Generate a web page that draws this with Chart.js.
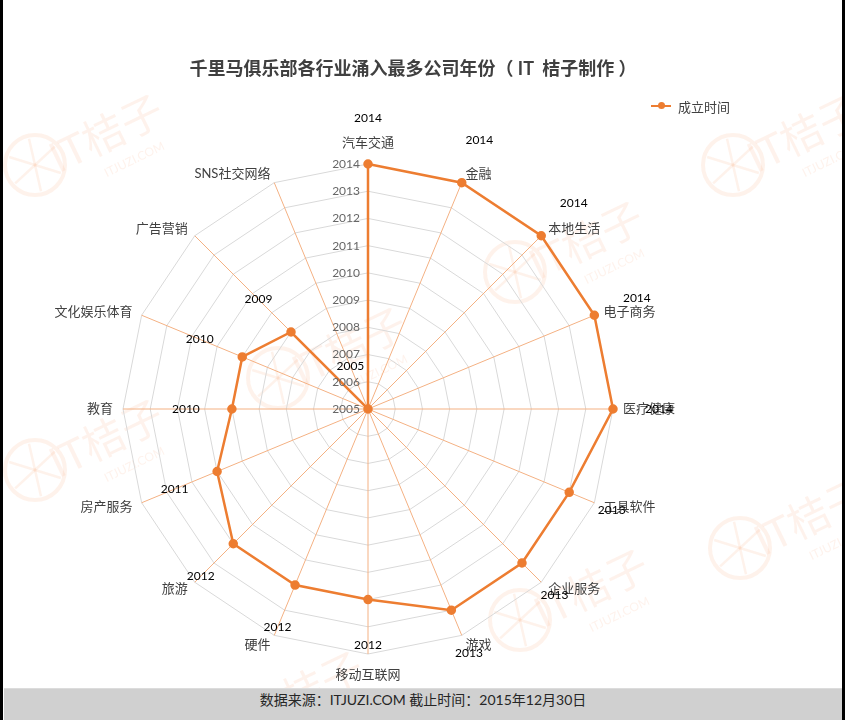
<!DOCTYPE html>
<html>
<head>
<meta charset="utf-8">
<title>千里马俱乐部各行业涌入最多公司年份</title>
<script src="https://cdn.jsdelivr.net/npm/chart.js@4.4.1/dist/chart.umd.min.js"></script>
<style>
  body { margin: 0; background: #fff; }
  #wrap { position: relative; width: 845px; height: 720px; overflow: hidden; background: #fff; }
  #myChart { position: absolute; left: 0; top: 0; }
  #title {
    position: absolute; left: 0; width: 826px; top: 54px; text-align: center; white-space: pre;
    font: bold 18px Lato, "Noto Sans CJK SC", sans-serif; color: #404040;
  }
  #legend {
    position: absolute; left: 650px; top: 96px; height: 20px;
    font: 13px Lato, "Noto Sans CJK SC", sans-serif; color: #404040;
  }
  #legend .line { position: absolute; left: 1px; top: 9px; width: 20px; height: 2px; background: #ed7d31; }
  #legend .dot { position: absolute; left: 8px; top: 6px; width: 7px; height: 7px; border-radius: 50%; background: #ed7d31; }
  #legend .txt { position: absolute; left: 28px; top: 1px; white-space: nowrap; }
  #footer {
    position: absolute; left: 4px; right: 3px; top: 688px; height: 32px;
    background: #d0d0d0; border-top: 1px solid #dcdcdc; box-sizing: border-box;
    text-align: center; line-height: 31px;
    font: 14px Lato, "Noto Sans CJK SC", sans-serif; color: #262626;
  }
  .bar { position: absolute; top: 0; width: 3px; height: 720px; background: #000; }
</style>
</head>
<body>
<div id="wrap">
  <canvas id="myChart" width="845" height="720"></canvas>
  <div id="title">千里马俱乐部各行业涌入最多公司年份（ IT  桔子制作 ）</div>
  <div id="legend"><div class="line"></div><div class="dot"></div><div class="txt">成立时间</div></div>
  <div id="footer">数据来源：ITJUZI.COM 截止时间：2015年12月30日</div>
  <div class="bar" style="left:0"></div>
  <div class="bar" style="left:842px"></div>
</div>

<script>
// =======================
// DATA
// =======================
const categories = [
  "汽车交通", "金融", "本地生活", "电子商务", "医疗健康", "工具软件",
  "企业服务", "游戏", "移动互联网", "硬件", "旅游", "房产服务",
  "教育", "文化娱乐体育", "广告营销", "SNS社交网络"
];
const foundedYear = [
  2014, 2014, 2014, 2014, 2014, 2013,
  2013, 2013, 2012, 2012, 2012, 2011,
  2010, 2010, 2009, 2005
];
const yearMin = 2005;
const yearMax = 2014;
const seriesName = "成立时间";

const ORANGE = "#ed7d31";
const FONT = 'Lato, "Noto Sans CJK SC", sans-serif';

// watermark logo anchors (circle centres)
const watermarks = [[35, 165], [278, 378], [515, 272], [733, 165], [35, 470], [740, 548], [520, 620], [235, 722]];

function drawWatermark(ctx, cx, cy) {
  ctx.save();
  ctx.strokeStyle = "rgba(245,165,120,0.15)";
  ctx.fillStyle = "rgba(245,165,120,0.14)";
  ctx.lineWidth = 4;
  ctx.beginPath();
  ctx.arc(cx, cy, 30, 0, Math.PI * 2);
  ctx.stroke();
  ctx.lineWidth = 2.5;
  for (let k = 0; k < 6; k++) {
    const a = k * Math.PI / 3 + 0.3;
    ctx.beginPath();
    ctx.moveTo(cx, cy);
    ctx.lineTo(cx + Math.cos(a) * 27, cy + Math.sin(a) * 27);
    ctx.stroke();
  }
  ctx.translate(cx + 72, cy - 30);
  ctx.rotate(-0.45);
  ctx.textAlign = "center";
  ctx.textBaseline = "middle";
  ctx.font = "42px " + FONT;
  ctx.fillText("IT桔子", 0, 0);
  ctx.font = "12px " + FONT;
  ctx.fillText("ITJUZI.COM", 14, 34);
  ctx.restore();
}

// =======================
// LABELS PLUGIN
// =======================
const radarExtras = {
  id: "radarExtras",
  beforeDraw(chart) {
    const ctx = chart.ctx;
    watermarks.forEach(w => drawWatermark(ctx, w[0], w[1]));
  },
  afterDatasetsDraw(chart) {
    const ctx = chart.ctx;
    const scale = chart.scales.r;
    const cx = scale.xCenter, cy = scale.yCenter;
    ctx.save();

    // tick labels, left of the vertical axis
    ctx.font = "12px " + FONT;
    ctx.fillStyle = "#666";
    ctx.textAlign = "right";
    ctx.textBaseline = "middle";
    scale.ticks.forEach(t => {
      const d = scale.getDistanceFromCenterForValue(t.value);
      ctx.fillText(String(t.value), cx - 8, cy - d);
    });

    // category labels
    ctx.font = "13px " + FONT;
    ctx.fillStyle = "#404040";
    categories.forEach((c, i) => {
      const p = scale.getPointPosition(i, scale.drawingArea + 10);
      const dx = p.x - cx, dy = p.y - cy;
      let y = p.y;
      if (Math.abs(dx) < 1) {
        ctx.textAlign = "center";
        y += dy < 0 ? -11 : 11;
      } else {
        ctx.textAlign = dx > 0 ? "left" : "right";
      }
      ctx.fillText(c, p.x, y);
    });

    // data labels
    ctx.font = "12px " + FONT;
    ctx.fillStyle = "#000";
    ctx.textAlign = "center";
    foundedYear.forEach((v, i) => {
      const d = scale.getDistanceFromCenterForValue(v);
      const p = scale.getPointPosition(i, d + 46);
      ctx.fillText(String(v), p.x, p.y);
    });
    ctx.restore();
  }
};

// =======================
// CHART
// =======================
const ctx = document.getElementById("myChart");

new Chart(ctx, {
  type: "radar",
  data: {
    labels: categories,
    datasets: [
      {
        label: seriesName,
        data: foundedYear,
        borderColor: ORANGE,
        backgroundColor: ORANGE,
        borderWidth: 2.5,
        fill: false,
        pointRadius: 3.5,
        pointBackgroundColor: ORANGE,
        pointBorderColor: ORANGE,
        tension: 0
      }
    ]
  },
  options: {
    responsive: false,
    animation: false,
    layout: {
      padding: { left: 123, right: 232, top: 164, bottom: 66 }
    },
    plugins: {
      legend: { display: false },
      title: { display: false },
      tooltip: { enabled: false }
    },
    scales: {
      r: {
        min: yearMin,
        max: yearMax,
        ticks: { stepSize: 1, display: false },
        pointLabels: { display: false },
        grid: { color: "#d9d9d9", lineWidth: 1 },
        angleLines: { color: "#f4b183", lineWidth: 1 }
      }
    }
  },
  plugins: [radarExtras]
});
</script>
</body>
</html>
